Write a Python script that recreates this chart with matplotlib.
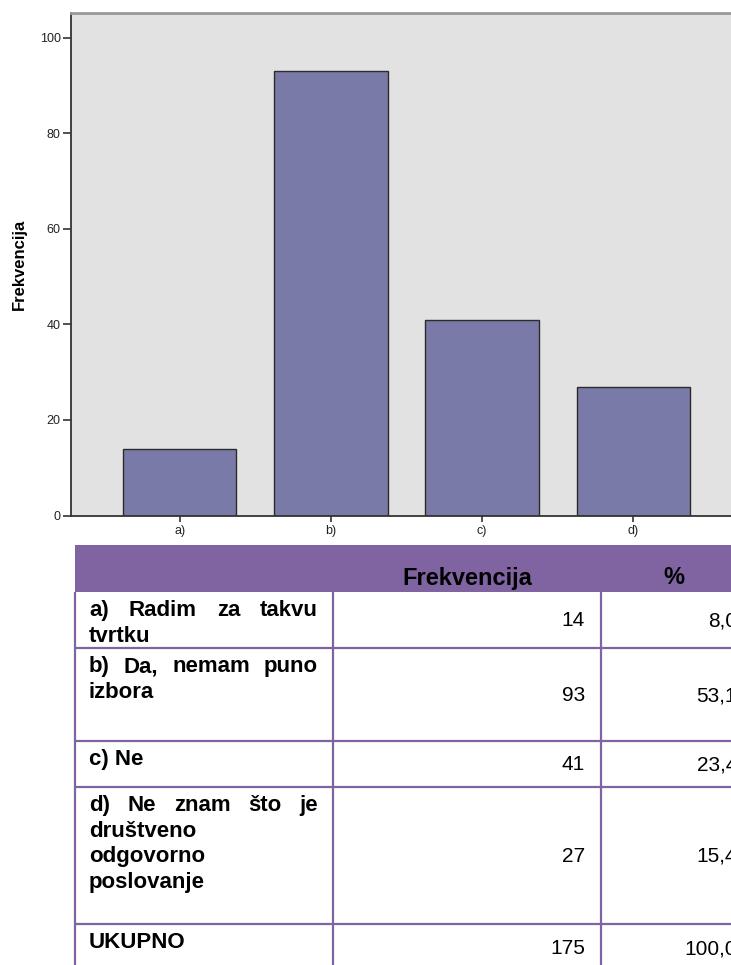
import matplotlib
matplotlib.use("Agg")
import matplotlib.pyplot as plt
from matplotlib.patches import Rectangle

plt.rcParams['font.family'] = ['Liberation Sans', 'DejaVu Sans']

# ---------------- data ----------------
categories = ['a)', 'b)', 'c)', 'd)']
freq = [14, 93, 41, 27]
yticks = [0, 20, 40, 60, 80, 100]

row_labels = [
    [('a) Radim za takvu', True), ('tvrtku', False)],
    [('b) Da, nemam puno', True), ('izbora', False)],
    [('c) Ne', False)],
    [('d) Ne znam što je', True), ('društveno', False), ('odgovorno', False), ('poslovanje', False)],
    [('UKUPNO', False)],
]
row_freq = ['14', '93', '41', '27', '175']
row_pct = ['8,0', '53,1', '23,4', '15,4', '100,0']
header = ['', 'Frekvencija', '%']

W, H = 731, 965
fig = plt.figure(figsize=(W / 100, H / 100), dpi=100)

# ---------------- bar chart ----------------
ax = fig.add_axes([71 / W, (H - 515.5) / H, (742 - 71) / W, (515.5 - 13) / H])
ax.set_facecolor('#e2e2e2')
ax.bar(range(len(categories)), freq, width=0.75, color='#7a7aa8',
       edgecolor='#2b2b2b', linewidth=1.0)
ax.set_xlim(-0.72, 3.72)
ax.set_ylim(0, 105.2)
ax.set_yticks(yticks)
ax.set_xticks(range(len(categories)))
ax.set_xticklabels(categories)
ax.tick_params(axis='y', length=6, width=1.1, labelsize=9, pad=1.5, colors='#222222')
ax.tick_params(axis='x', length=4.5, width=1.1, labelsize=9, pad=2.5, colors='#222222')
ax.set_ylabel('Frekvencija', fontsize=12, fontweight='bold', labelpad=9)
for s in ['left', 'bottom']:
    ax.spines[s].set_color('#333333')
    ax.spines[s].set_linewidth(1.3)
ax.spines['top'].set_color('#999999')
ax.spines['top'].set_linewidth(2)
ax.spines['right'].set_visible(False)

# ---------------- table ----------------
tx = fig.add_axes([0, 0, 1, 1])
tx.set_xlim(0, W)
tx.set_ylim(H, 0)
tx.axis('off')

purple = '#8064a2'
x_left, x_c1, x_c2, x_right = 75, 333, 601, 760
y_head_top, y_head_bot = 545, 592
row_bounds = [592, 648, 741, 787, 924, 972]

tx.add_patch(Rectangle((x_left, y_head_top), x_right - x_left, y_head_bot - y_head_top,
                       facecolor=purple, edgecolor='none'))
tx.text((x_c1 + x_c2) / 2, 578, header[1], ha='center', va='center',
        fontsize=17, fontweight='bold')
tx.text(674, 578, header[2], ha='center', va='center', fontsize=17, fontweight='bold')

for y in row_bounds[1:-1]:
    tx.plot([x_left, x_right], [y, y], color=purple, lw=1.6, solid_capstyle='butt')
for x in [x_left, x_c1, x_c2]:
    tx.plot([x, x], [y_head_bot, H + 5], color=purple, lw=1.6, solid_capstyle='butt')

renderer = fig.canvas.get_renderer()
lab_x0, lab_x1 = 89, 318
fs = 16
line_h = 25.7
for i, lines in enumerate(row_labels):
    y0 = row_bounds[i] + 24
    for j, (line, justify) in enumerate(lines):
        y = y0 + j * line_h
        if not justify:
            tx.text(lab_x0, y, line, ha='left', va='baseline', fontsize=fs, fontweight='bold')
            continue
        words = line.split()
        arts = [tx.text(0, y, w, ha='left', va='baseline', fontsize=fs, fontweight='bold')
                for w in words]
        widths = [a.get_window_extent(renderer).width for a in arts]
        gap = (lab_x1 - lab_x0 - sum(widths)) / (len(words) - 1)
        x = lab_x0
        for a, w in zip(arts, widths):
            a.set_x(x)
            x += w + gap

    yc = (row_bounds[i] + row_bounds[i + 1]) / 2
    tx.text(585, yc + 1, row_freq[i], ha='right', va='center', fontsize=15)
    tx.text(737, yc + 1, row_pct[i], ha='right', va='center', fontsize=15)

fig.savefig('out.png', dpi=100)
